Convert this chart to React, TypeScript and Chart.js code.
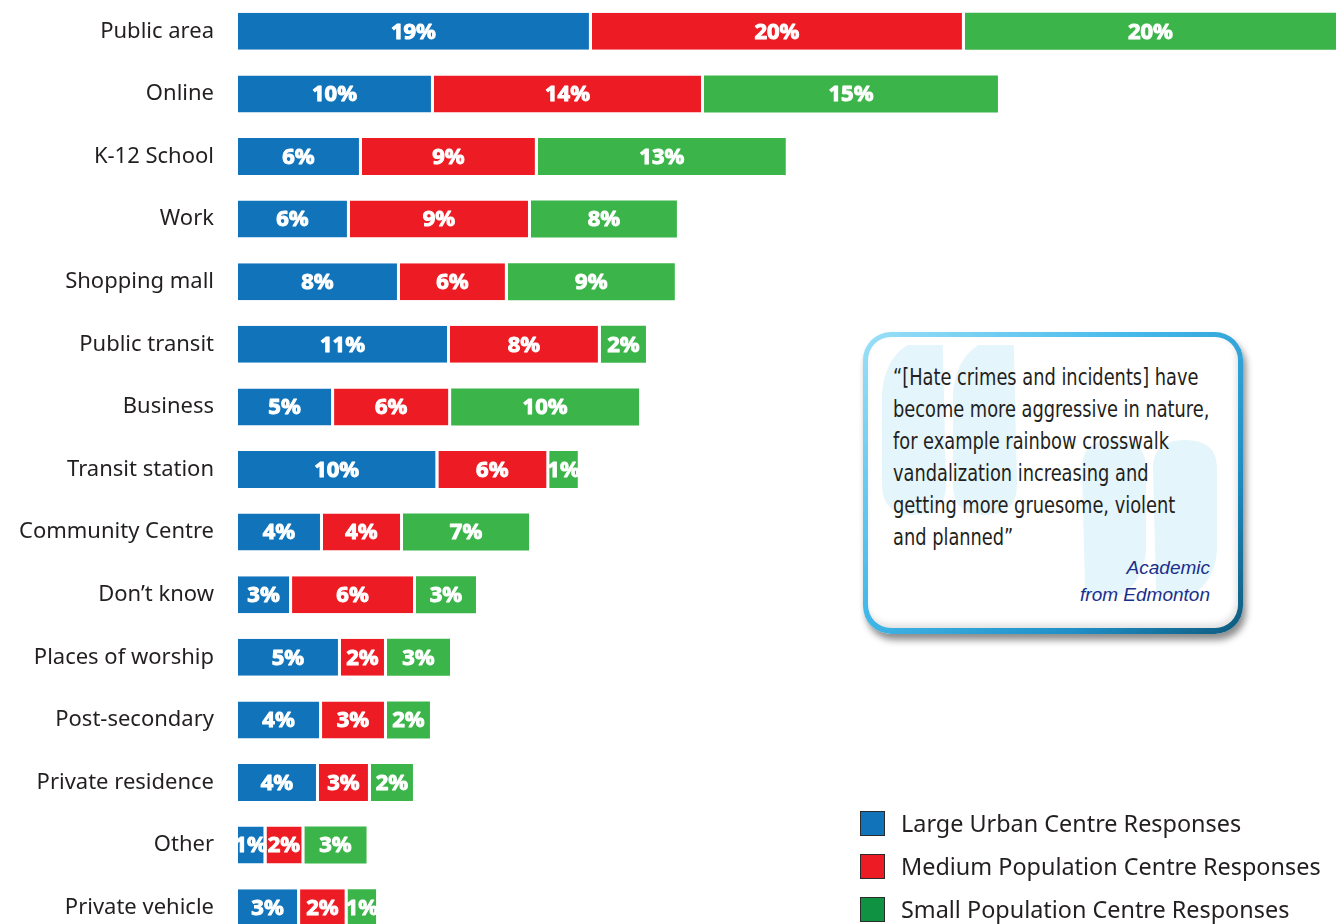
import React, { useEffect, useRef } from "react";
import { Chart, registerables } from "chart.js";

Chart.register(...registerables);

const categories = [
  "Public area",
  "Online",
  "K-12 School",
  "Work",
  "Shopping mall",
  "Public transit",
  "Business",
  "Transit station",
  "Community Centre",
  "Don\u2019t know",
  "Places of worship",
  "Post-secondary",
  "Private residence",
  "Other",
  "Private vehicle",
];

const seriesNames = [
  "Large Urban Centre Responses",
  "Medium Population Centre Responses",
  "Small Population Centre Responses",
];

const largeUrban = [18.53, 10.26, 6.49, 5.86, 8.48, 11.1, 5.03, 10.49, 4.45, 2.83, 5.39, 4.4, 4.24, 1.49, 3.25];
const mediumPop = [19.53, 14.14, 9.21, 9.48, 5.65, 7.9, 6.13, 5.81, 4.19, 6.49, 2.41, 3.4, 2.72, 1.99, 2.49];
const smallPop = [20, 15.39, 12.98, 7.64, 8.74, 2.36, 9.84, 1.49, 6.6, 3.14, 3.3, 2.25, 2.2, 3.25, 1.49];

const barColors = ["#1174BA", "#ED1C24", "#3BB54A"];
const legendColors = ["#1174BA", "#ED1C24", "#0F9343"];

const quoteLines = [
  "\u201C[Hate crimes and incidents] have",
  "become more aggressive in nature,",
  "for example rainbow crosswalk",
  "vandalization increasing and",
  "getting more gruesome, violent",
  "and planned\u201D",
];
const attributionLines = ["Academic", "from Edmonton"];

const barLabelPlugin = {
  id: "barLabels",
  afterDatasetsDraw(chart: any) {
    const { ctx, chartArea } = chart;
    ctx.save();
    ctx.font = "bold 22px 'Noto Sans', sans-serif";
    ctx.fillStyle = "#ffffff";
    ctx.strokeStyle = "#ffffff";
    ctx.lineWidth = 1;
    ctx.lineJoin = "round";
    ctx.textAlign = "center";
    ctx.textBaseline = "middle";
    chart.data.datasets.forEach((ds: any, di: number) => {
      const meta = chart.getDatasetMeta(di);
      const gap = di < chart.data.datasets.length - 1 ? 3 : 0;
      meta.data.forEach((el: any, i: number) => {
        const p = el.getProps(["x", "y", "base"], true);
        const left = Math.min(p.base, p.x);
        const right = Math.min(Math.max(p.base, p.x) - gap, chartArea.right);
        const v = ds.data[i] as number;
        const t = Math.round(v) + "%";
        const cx = (left + right) / 2;
        ctx.strokeText(t, cx, p.y + 1);
        ctx.fillText(t, cx, p.y + 1);
      });
    });
    ctx.restore();
  },
};

function markPath(x: number, y: number, w: number, h: number, flip: boolean) {
  const pts: [number, number][] = [
    [0.4, 0],
    [0.95, 0],
    [1, 0.82],
    [0.5, 1],
    [0, 0.82],
    [0, 0.28],
  ];
  const map = (p: [number, number]) => {
    const u = flip ? 1 - p[0] : p[0];
    const v = flip ? 1 - p[1] : p[1];
    return [x + u * w, y + v * h];
  };
  const m = pts.map(map);
  return (
    `M ${m[0][0]} ${m[0][1]} L ${m[1][0]} ${m[1][1]} L ${m[2][0]} ${m[2][1]} ` +
    `Q ${map([1, 1])[0]} ${map([1, 1])[1]} ${m[3][0]} ${m[3][1]} ` +
    `Q ${map([0, 1])[0]} ${map([0, 1])[1]} ${m[4][0]} ${m[4][1]} ` +
    `L ${m[5][0]} ${m[5][1]} Q ${map([0.05, 0.08])[0]} ${map([0.05, 0.08])[1]} ${m[0][0]} ${m[0][1]} Z`
  );
}

function QuoteBox() {
  const bx = 863;
  const by = 332;
  const marks = [
    markPath(882 - bx, 345 - by, 64, 170, false),
    markPath(953 - bx, 345 - by, 64, 170, false),
    markPath(1082 - bx, 440 - by, 64, 155, true),
    markPath(1153 - bx, 440 - by, 64, 155, true),
  ];
  return (
    <div
      style={{
        position: "absolute",
        left: bx,
        top: by,
        width: 380,
        height: 302,
        borderRadius: 28,
        background: "linear-gradient(135deg, #9be0f8 0%, #45b9ea 40%, #1f8fc6 75%, #0e5a7d 100%)",
        boxShadow: "3px 6px 7px rgba(0,0,0,0.45)",
      }}
    >
      <div
        style={{
          position: "absolute",
          left: 5,
          top: 5,
          right: 5,
          bottom: 6,
          borderRadius: 23,
          background: "#ffffff",
          boxShadow: "inset -2px -4px 6px rgba(0,0,0,0.12)",
        }}
      />
      <svg
        width={380}
        height={302}
        style={{ position: "absolute", left: 0, top: 0 }}
      >
        {marks.map((d, i) => (
          <path key={i} d={d} fill="#E5F5FC" />
        ))}
      </svg>
      <div
        style={{
          position: "absolute",
          left: 30,
          top: 29,
          fontFamily: "'DejaVu Sans Condensed', 'Liberation Sans Narrow', sans-serif",
          fontSize: 23,
          lineHeight: "32px",
          color: "#231F20",
          whiteSpace: "nowrap",
          transform: "scaleX(0.86)",
          transformOrigin: "0 0",
        }}
      >
        {quoteLines.map((l, i) => (
          <div key={i}>{l}</div>
        ))}
      </div>
      <div
        style={{
          position: "absolute",
          right: 33,
          top: 222,
          fontFamily: "'Liberation Sans', sans-serif",
          fontStyle: "italic",
          fontSize: 19,
          lineHeight: "27px",
          color: "#1B2F8C",
          textAlign: "right",
          whiteSpace: "nowrap",
        }}
      >
        {attributionLines.map((l, i) => (
          <div key={i}>{l}</div>
        ))}
      </div>
    </div>
  );
}

function Legend() {
  const tops = [811, 854, 897];
  return (
    <>
      {seriesNames.map((name, i) => (
        <div
          key={name}
          style={{
            position: "absolute",
            left: 860,
            top: tops[i],
            height: 25,
            display: "flex",
            alignItems: "center",
            whiteSpace: "nowrap",
          }}
        >
          <div
            style={{
              width: 25,
              height: 25,
              boxSizing: "border-box",
              border: "1px solid #2b2b2b",
              background: legendColors[i],
            }}
          />
          <div
            style={{
              marginLeft: 16,
              fontFamily: "'Noto Sans', sans-serif",
              fontSize: 23.4,
              lineHeight: "25px",
              color: "#231F20",
            }}
          >
            {name}
          </div>
        </div>
      ))}
    </>
  );
}

export default function App() {
  const canvasRef = useRef<HTMLCanvasElement | null>(null);

  useEffect(() => {
    const canvas = canvasRef.current;
    if (!canvas) return;
    const series = [largeUrban, mediumPop, smallPop];
    const chart = new Chart(canvas, {
      type: "bar",
      data: {
        labels: categories,
        datasets: series.map((data, i) => ({
          label: seriesNames[i],
          data,
          backgroundColor: barColors[i],
          borderColor: "#ffffff",
          borderWidth: i < 2 ? { top: 0, bottom: 0, left: 0, right: 3 } : 0,
          borderSkipped: false,
          inflateAmount: 0,
          barThickness: 37,
        })),
      },
      options: {
        indexAxis: "y",
        responsive: false,
        animation: false,
        devicePixelRatio: 1,
        layout: { padding: 0 },
        plugins: {
          legend: { display: false },
          tooltip: { enabled: false },
        },
        scales: {
          x: {
            stacked: true,
            display: false,
            min: 0,
            max: 57.49,
          },
          y: {
            stacked: true,
            grid: { display: false, drawTicks: false },
            border: { display: false },
            ticks: {
              autoSkip: false,
              padding: 24,
              color: "#231F20",
              font: { family: "'Noto Sans', sans-serif", size: 22 },
            },
            afterFit: (scale: any) => {
              scale.width = 238;
              scale.paddingTop = 0;
              scale.paddingBottom = 0;
            },
          },
        },
      } as any,
      plugins: [barLabelPlugin],
    });
    return () => {
      chart.destroy();
    };
  }, []);

  return (
    <div
      style={{
        position: "absolute",
        left: 0,
        top: 0,
        width: 1336,
        height: 924,
        overflow: "hidden",
        background: "#ffffff",
      }}
    >
      <canvas
        ref={canvasRef}
        width={1336}
        height={939}
        style={{ position: "absolute", left: 0, top: 0, width: 1336, height: 939 }}
      />
      <QuoteBox />
      <Legend />
    </div>
  );
}
